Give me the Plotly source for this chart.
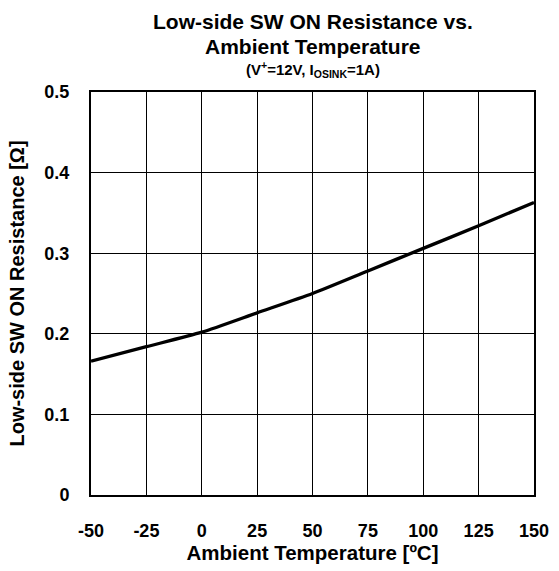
import plotly.graph_objects as go

temps = [-50, -25, 0, 25, 50, 75, 100, 125, 150]
resistance = [0.166, 0.184, 0.202, 0.226, 0.250, 0.278, 0.306, 0.334, 0.363]
x_ticks = [-50, -25, 0, 25, 50, 75, 100, 125, 150]
x_tick_labels = ["-50", "-25", "0", "25", "50", "75", "100", "125", "150"]
y_ticks = [0, 0.1, 0.2, 0.3, 0.4, 0.5]
y_tick_labels = ["0", "0.1", "0.2", "0.3", "0.4", "0.5"]

FONT = "Liberation Sans, Arial, sans-serif"
W, H = 559, 571
ML, MR, MT, MB = 91, 25, 92, 76

fig = go.Figure()
fig.add_trace(go.Scatter(x=temps, y=resistance, mode="lines",
                         line=dict(color="black", width=3.3, shape="spline", smoothing=0.6),
                         showlegend=False, hoverinfo="skip"))

fig.update_layout(
    width=W, height=H, autosize=False,
    paper_bgcolor="white", plot_bgcolor="white",
    margin=dict(l=ML, r=MR, t=MT, b=MB),
    font=dict(family=FONT, color="black"),
    xaxis=dict(range=[-50, 150], tickvals=x_ticks, ticktext=x_tick_labels, showgrid=True,
               gridcolor="black", gridwidth=1, zeroline=False, showline=True, linecolor="black",
               linewidth=2, mirror=True, ticks="", automargin=False, ticklabelstandoff=18,
               tickfont=dict(size=18, family=FONT, weight="bold"),
               title=dict(text="<b>Ambient Temperature [ºC]</b>", font=dict(size=20.5), standoff=4)),
    yaxis=dict(range=[0, 0.5], tickvals=y_ticks, ticktext=y_tick_labels, showgrid=True,
               gridcolor="black", gridwidth=1, zeroline=False, showline=True, linecolor="black",
               linewidth=2, mirror=True, ticks="", automargin=False, ticklabelstandoff=16,
               tickfont=dict(size=18, family=FONT, weight="bold"),
               title=dict(text="<b>Low-side SW ON Resistance [Ω]</b>", font=dict(size=20), standoff=14)),
)

titles = [
    ("<b>Low-side SW ON Resistance vs.</b>", 22, 21),
    ("<b>Ambient Temperature</b>", 47, 21),
    ("<b>(V<sup>+</sup>=12V, I<sub>OSINK</sub>=1A)</b>", 70, 15),
]
plot_h = H - MT - MB
plot_w = W - ML - MR
for text, ypx, size in titles:
    fig.add_annotation(text=text, xref="paper", yref="paper",
                       x=(312.5 - ML) / plot_w, y=(H - MB - ypx) / plot_h,
                       xanchor="center", yanchor="middle", showarrow=False,
                       font=dict(size=size))

fig.write_html("out.html", config={"displayModeBar": False},
               post_script="document.body.style.margin='0';")
